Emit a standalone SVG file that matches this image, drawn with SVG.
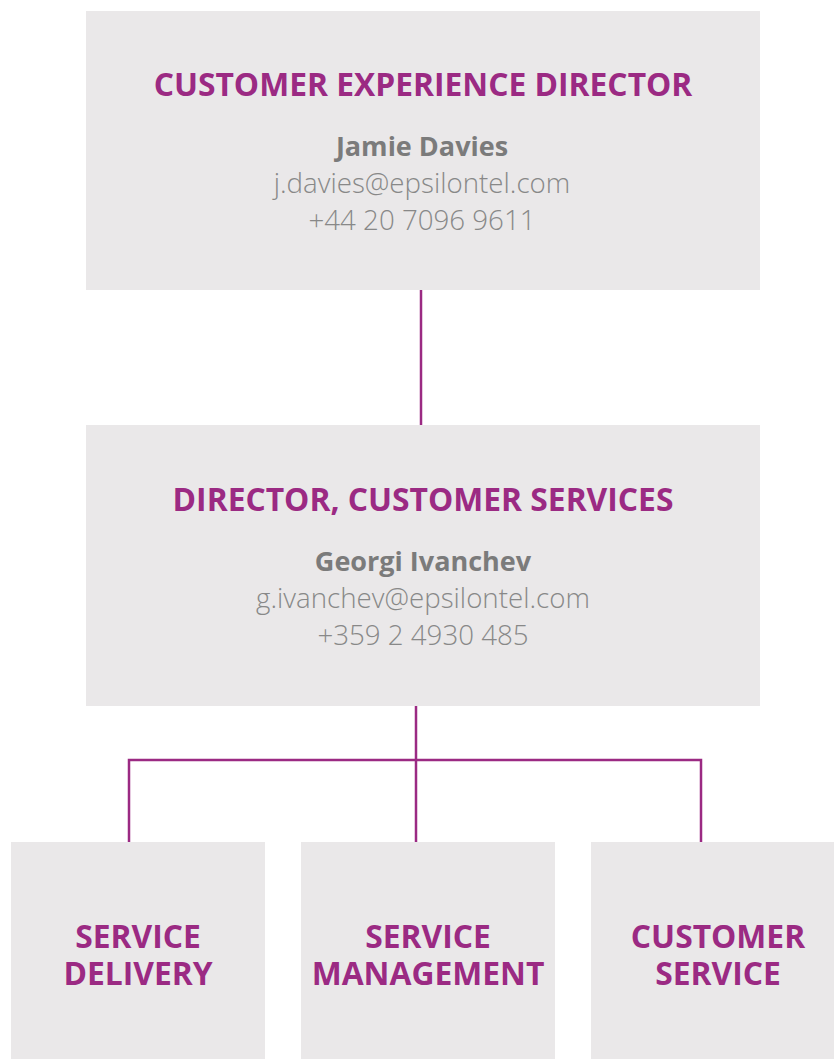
<svg xmlns="http://www.w3.org/2000/svg" width="834" height="1059" viewBox="0 0 834 1059">
<style>
.box{fill:#EAE8E9}
.title{font-family:"Open Sans","Liberation Sans",sans-serif;font-weight:700;fill:#9B2A83;text-anchor:middle;font-size:31.8px}
.name{font-family:"Open Sans","Liberation Sans",sans-serif;font-weight:700;fill:#7B7B7B;text-anchor:middle;font-size:27px}
.info{font-family:"Open Sans","Liberation Sans",sans-serif;font-weight:300;fill:#888888;text-anchor:middle;font-size:27.7px}
.conn{fill:none;stroke:#9B2A83;stroke-width:2.5}
</style>
<rect width="834" height="1059" fill="#FFFFFF"/>
<g id="connectors">
<line class="conn" x1="421" y1="290" x2="421" y2="425"/>
<line class="conn" x1="416" y1="706" x2="416" y2="842"/>
<polyline class="conn" points="129,842 129,760 701,760 701,842"/>
</g>
<g id="node-ced">
<rect class="box" x="86" y="11" width="674" height="279"/>
<text class="title" x="423" y="96">CUSTOMER EXPERIENCE DIRECTOR</text>
<text class="name" x="422" y="156">Jamie Davies</text>
<text class="info" x="422" y="193">j.davies@epsilontel.com</text>
<text class="info" x="422" y="230">+44 20 7096 9611</text>
</g>
<g id="node-dcs">
<rect class="box" x="86" y="425" width="674" height="281"/>
<text class="title" x="423" y="511">DIRECTOR, CUSTOMER SERVICES</text>
<text class="name" x="423" y="571">Georgi Ivanchev</text>
<text class="info" x="423" y="608">g.ivanchev@epsilontel.com</text>
<text class="info" x="423" y="645">+359 2 4930 485</text>
</g>
<g id="node-sd">
<rect class="box" x="11" y="842" width="254" height="217"/>
<text class="title" x="138" y="948">SERVICE</text>
<text class="title" x="138" y="985">DELIVERY</text>
</g>
<g id="node-sm">
<rect class="box" x="301" y="842" width="254" height="217"/>
<text class="title" x="428" y="948">SERVICE</text>
<text class="title" x="428" y="985">MANAGEMENT</text>
</g>
<g id="node-cs">
<rect class="box" x="591" y="842" width="254" height="217"/>
<text class="title" x="718" y="948">CUSTOMER</text>
<text class="title" x="718" y="985">SERVICE</text>
</g>
</svg>
